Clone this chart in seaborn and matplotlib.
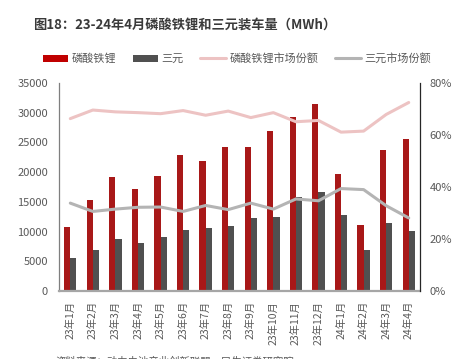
import numpy as np
import pandas as pd
import matplotlib.pyplot as plt
import seaborn as sns
from matplotlib.patches import Patch
from matplotlib.lines import Line2D
from matplotlib.ticker import PercentFormatter

months = ["23年1月", "23年2月", "23年3月", "23年4月", "23年5月", "23年6月", "23年7月", "23年8月",
          "23年9月", "23年10月", "23年11月", "23年12月", "24年1月", "24年2月", "24年3月", "24年4月"]
lfp = [10800, 15300, 19200, 17200, 19300, 22900, 21800, 24150,
       24300, 26900, 29300, 31450, 19750, 11050, 23750, 25600]
ternary = [5500, 6850, 8750, 8100, 9100, 10200, 10650, 10950,
           12350, 12400, 15850, 16700, 12750, 6980, 11450, 10030]
lfp_share = [0.663, 0.696, 0.689, 0.686, 0.682, 0.694, 0.676, 0.692,
             0.667, 0.686, 0.651, 0.656, 0.611, 0.615, 0.679, 0.725]
ter_share = [0.338, 0.306, 0.315, 0.322, 0.323, 0.306, 0.329, 0.313,
             0.338, 0.315, 0.354, 0.347, 0.394, 0.390, 0.328, 0.281]

names = ["磷酸铁锂", "三元", "磷酸铁锂市场份额", "三元市场份额"]
red, dark, pink, grey = "#C00000", "#505050", "#EDC3C3", "#B4B4B4"
txt = "#595959"

bars = pd.DataFrame({
    "month": months * 2,
    "value": lfp + ternary,
    "type": [names[0]] * len(months) + [names[1]] * len(months),
})

sns.set_theme(style="white")
plt.rcParams["font.family"] = ["Noto Sans CJK SC", "DejaVu Sans"]

fig = plt.figure(figsize=(4.55, 3.59), dpi=100)
ax = fig.add_axes([0.1297, 0.1894, 0.7934, 0.5794])

sns.barplot(data=bars, x="month", y="value", hue="type", order=months,
            palette=[red, dark], width=0.55, gap=0, linewidth=0,
            legend=False, ax=ax)
ax.set_xlim(-0.5, len(months) - 0.5)
ax.set_ylim(0, 35000)
ax.set_yticks(range(0, 35001, 5000))
ax.set_xlabel("")
ax.set_ylabel("")
ax.tick_params(axis="x", rotation=90, length=0, pad=7, labelsize=7.5, colors=txt)
ax.tick_params(axis="y", length=0, pad=8, labelsize=8, colors=txt)
for s in ["top", "right"]:
    ax.spines[s].set_visible(False)
ax.spines["left"].set_color("#7F7F7F")
ax.spines["left"].set_linewidth(0.9)
ax.spines["bottom"].set_color("#A6A6A6")
ax.spines["bottom"].set_linewidth(1.6)

ax2 = ax.twinx()
pos = np.arange(len(months))
sns.lineplot(x=pos, y=lfp_share, color=pink, linewidth=2.2, ax=ax2)
sns.lineplot(x=pos, y=ter_share, color=grey, linewidth=2.2, ax=ax2)
ax2.set_ylim(0, 0.8)
ax2.set_yticks([0, 0.2, 0.4, 0.6, 0.8])
ax2.yaxis.set_major_formatter(PercentFormatter(1.0, decimals=0))
ax2.tick_params(axis="y", length=0, pad=7, labelsize=8, colors=txt)
for s in ["top", "left", "bottom"]:
    ax2.spines[s].set_visible(False)
ax2.spines["right"].set_color("#262626")
ax2.spines["right"].set_linewidth(0.9)

handles = [
    Patch(facecolor=red, edgecolor="none"),
    Patch(facecolor=dark, edgecolor="none"),
    Line2D([0], [0], color=pink, linewidth=2.2),
    Line2D([0], [0], color=grey, linewidth=2.2),
]
leg = fig.legend(handles, names, loc="center", bbox_to_anchor=(0.52, 0.836), ncol=4,
                 frameon=False, fontsize=8, handlelength=2.3, handleheight=0.7,
                 handletextpad=0.3, columnspacing=1.5, labelcolor=txt)

fig.text(0.073, 0.93, "图18：23-24年4月磷酸铁锂和三元装车量（MWh）", fontsize=9.5,
         fontweight="bold", color="#3A3A3A", va="center", ha="left")
fig.text(0.121, 0.008, "资料来源：动力电池产业创新联盟，民生证券研究院", fontsize=7.5,
         color=txt, va="top", ha="left")

fig.savefig("out.png", dpi=100)
